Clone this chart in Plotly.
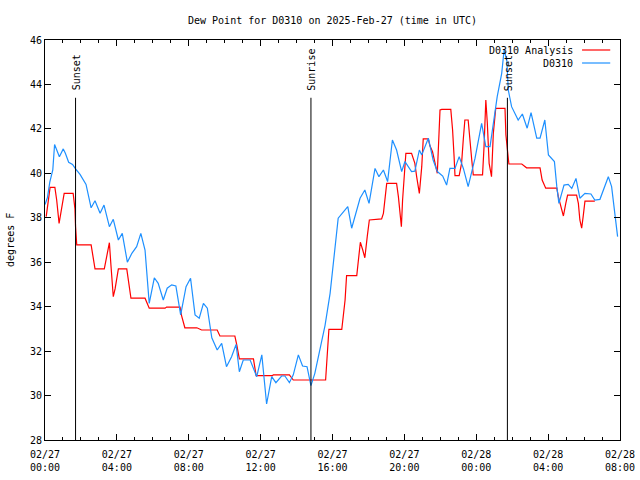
import pandas as pd
import plotly.graph_objects as go

# ---- data ----
obs_times = [
    "02-27 00:00", "02-27 00:08", "02-27 00:16", "02-27 00:26", "02-27 00:32", "02-27 00:48",
    "02-27 01:01", "02-27 01:08", "02-27 01:19", "02-27 01:32", "02-27 01:42", "02-27 01:57",
    "02-27 02:17", "02-27 02:34", "02-27 02:47", "02-27 03:04", "02-27 03:17", "02-27 03:35",
    "02-27 03:48", "02-27 04:05", "02-27 04:18", "02-27 04:35", "02-27 04:50", "02-27 05:06",
    "02-27 05:20", "02-27 05:34", "02-27 05:48", "02-27 06:05", "02-27 06:18", "02-27 06:35",
    "02-27 06:48", "02-27 07:03", "02-27 07:17", "02-27 07:33", "02-27 07:51", "02-27 08:06",
    "02-27 08:21", "02-27 08:35", "02-27 08:49", "02-27 09:02", "02-27 09:17", "02-27 09:35",
    "02-27 09:50", "02-27 10:06", "02-27 10:23", "02-27 10:38", "02-27 10:49", "02-27 11:02",
    "02-27 11:25", "02-27 11:47", "02-27 12:04", "02-27 12:11", "02-27 12:20", "02-27 12:37",
    "02-27 12:51", "02-27 13:10", "02-27 13:21", "02-27 13:36", "02-27 13:49", "02-27 14:06",
    "02-27 14:20", "02-27 14:35", "02-27 14:48", "02-27 15:01", "02-27 15:18", "02-27 15:35",
    "02-27 15:52", "02-27 16:08", "02-27 16:19", "02-27 16:51", "02-27 17:04", "02-27 17:32",
    "02-27 17:48", "02-27 18:02", "02-27 18:22", "02-27 18:35", "02-27 18:50", "02-27 19:04",
    "02-27 19:20", "02-27 19:34", "02-27 19:51", "02-27 20:02", "02-27 20:24", "02-27 20:35",
    "02-27 20:50", "02-27 20:58", "02-27 21:20", "02-27 21:36", "02-27 21:50", "02-27 22:08",
    "02-27 22:21", "02-27 22:32", "02-27 22:49", "02-27 23:03", "02-27 23:17", "02-27 23:33",
    "02-27 23:56", "02-28 00:18", "02-28 00:32", "02-28 00:46", "02-28 00:59", "02-28 01:10",
    "02-28 01:25", "02-28 01:33", "02-28 01:42", "02-28 01:47", "02-28 01:58", "02-28 02:20",
    "02-28 02:34", "02-28 02:50", "02-28 03:03", "02-28 03:22", "02-28 03:33", "02-28 03:49",
    "02-28 04:01", "02-28 04:21", "02-28 04:29", "02-28 04:36", "02-28 04:53", "02-28 05:07",
    "02-28 05:19", "02-28 05:33", "02-28 05:46", "02-28 06:03", "02-28 06:23", "02-28 06:36",
    "02-28 06:53", "02-28 07:21", "02-28 07:32", "02-28 07:52",
]
obs_dewpt = [
    38.6, 38.9, 39.6, 40.15, 41.3, 40.75,
    41.1, 40.9, 40.5, 40.4, 40.2, 39.95,
    39.5, 38.45, 38.77, 38.2, 38.57, 37.6,
    37.93, 37.0, 37.3, 36.0, 36.4, 36.7,
    37.3, 36.55, 34.15, 35.3, 35.05, 34.3,
    34.83, 34.98, 34.93, 33.63, 34.9, 35.28,
    33.63, 33.48, 34.15, 33.93, 32.6, 32.05,
    32.35, 31.3, 31.75, 32.3, 31.07, 31.6,
    31.6, 30.85, 31.83, 30.78, 29.62, 30.85,
    30.58, 30.88, 30.88, 30.58, 30.93, 31.83,
    31.33, 31.3, 30.45, 31.0, 32.1, 33.15,
    34.6, 36.55, 37.98, 38.5, 37.53, 38.88,
    39.25, 38.65, 40.22, 39.85, 40.15, 39.63,
    41.5, 41.05, 40.08, 40.53, 40.08, 40.1,
    41.05, 40.83, 41.58, 40.6, 40.08, 39.88,
    39.47, 40.22, 40.22, 40.75, 40.22, 39.4,
    40.68, 42.25, 41.2, 41.2, 42.48, 43.45,
    44.5, 45.55, 45.1, 43.75, 43.0, 42.4,
    42.67, 42.03, 42.73, 41.58, 41.58, 42.4,
    40.83, 40.53, 39.4, 38.65, 39.47, 39.5,
    39.32, 39.77, 38.88, 39.1, 39.07, 38.8,
    38.83, 39.85, 39.4, 37.15,
]

ana_times = [
    "02-27 00:04", "02-27 00:11", "02-27 00:17", "02-27 00:33", "02-27 00:39", "02-27 00:47",
    "02-27 00:53", "02-27 01:04", "02-27 01:34", "02-27 01:40", "02-27 01:42", "02-27 01:46",
    "02-27 02:34", "02-27 02:47", "02-27 03:18", "02-27 03:31", "02-27 03:35", "02-27 03:40",
    "02-27 03:48", "02-27 03:54", "02-27 04:05", "02-27 04:33", "02-27 04:47", "02-27 05:34",
    "02-27 05:48", "02-27 06:41", "02-27 06:46", "02-27 07:31", "02-27 07:36", "02-27 07:47",
    "02-27 08:27", "02-27 08:43", "02-27 09:35", "02-27 09:44", "02-27 10:34", "02-27 10:40",
    "02-27 10:49", "02-27 11:36", "02-27 11:45", "02-27 12:40", "02-27 12:42", "02-27 13:36",
    "02-27 13:49", "02-27 15:37", "02-27 15:48", "02-27 16:31", "02-27 16:42", "02-27 16:47",
    "02-27 17:21", "02-27 17:26", "02-27 17:33", "02-27 17:41", "02-27 17:48", "02-27 17:56",
    "02-27 18:03", "02-27 18:44", "02-27 18:50", "02-27 19:01", "02-27 19:34", "02-27 19:40",
    "02-27 19:45", "02-27 19:50", "02-27 19:54", "02-27 19:59", "02-27 20:05", "02-27 20:24",
    "02-27 20:35", "02-27 20:41", "02-27 20:46", "02-27 20:50", "02-27 20:58", "02-27 21:03",
    "02-27 21:20", "02-27 21:25", "02-27 21:34", "02-27 21:42", "02-27 21:50", "02-27 21:59",
    "02-27 22:05", "02-27 22:35", "02-27 22:41", "02-27 22:46", "02-27 22:49", "02-27 23:03",
    "02-27 23:11", "02-27 23:17", "02-27 23:22", "02-27 23:33", "02-27 23:39", "02-27 23:45",
    "02-27 23:50", "02-28 00:21", "02-28 00:26", "02-28 00:32", "02-28 00:37", "02-28 00:43",
    "02-28 00:51", "02-28 00:57", "02-28 01:05", "02-28 01:36", "02-28 01:39", "02-28 01:45",
    "02-28 01:49", "02-28 02:32", "02-28 02:48", "02-28 03:33", "02-28 03:40", "02-28 03:52",
    "02-28 04:29", "02-28 04:34", "02-28 04:40", "02-28 04:45", "02-28 04:51", "02-28 04:59",
    "02-28 05:05", "02-28 05:35", "02-28 05:41", "02-28 05:46", "02-28 05:52", "02-28 05:57",
    "02-28 06:03", "02-28 06:36",
]
ana_dewpt = [
    38.05, 38.8, 39.37, 39.37, 38.8, 37.75,
    38.2, 39.1, 39.1, 38.4, 37.6, 36.78,
    36.78, 35.7, 35.7, 36.7, 36.88, 35.9,
    34.45, 34.8, 35.7, 35.7, 34.38, 34.38,
    33.93, 33.93, 33.98, 33.98, 33.6, 33.05,
    33.05, 32.95, 32.95, 32.68, 32.68, 32.3,
    31.65, 31.65, 30.9, 30.9, 30.93, 30.93,
    30.7, 30.7, 32.98, 32.98, 34.3, 35.4,
    35.4, 36.03, 36.9, 36.55, 36.2, 37.15,
    37.9, 37.95, 38.2, 39.55, 39.55, 38.95,
    38.2, 37.6, 38.8, 40.0, 40.9, 40.9,
    40.45, 39.85, 39.33, 39.1, 40.3, 41.55,
    41.55, 41.25, 40.97, 40.45, 40.0, 42.85,
    42.88, 42.88, 41.95, 40.75, 39.9, 39.9,
    40.45, 41.58, 42.4, 42.4, 41.65, 40.6,
    39.93, 39.93, 41.2, 43.3, 42.25, 40.45,
    39.85, 41.8, 42.92, 42.92, 41.73, 41.05,
    40.42, 40.42, 40.25, 40.25, 39.7, 39.33,
    39.33, 38.95, 38.65, 38.43, 38.08, 38.65,
    39.02, 39.02, 38.65, 37.9, 37.53, 38.05,
    38.75, 38.75,
]

event_labels = ["Sunset", "Sunrise", "Sunset"]
event_times = ["02-27 01:42", "02-27 14:48", "02-28 01:44"]
event_top = 43.4

series_names = ["D0310 Analysis", "D0310"]
series_colors = ["#ff0000", "#1e90ff"]

x_start = "2025-02-27 00:00"
x_end = "2025-02-28 08:00"
y_min, y_max = 28, 46


def to_dt(lst):
    return pd.to_datetime(["2025-" + s for s in lst])


FONT = "DejaVu Sans Mono"
FS = 10

fig = go.Figure()
fig.add_trace(go.Scatter(x=to_dt(ana_times), y=ana_dewpt, mode="lines",
                         line=dict(color=series_colors[0], width=1.2),
                         name=series_names[0], showlegend=False))
fig.add_trace(go.Scatter(x=to_dt(obs_times), y=obs_dewpt, mode="lines",
                         line=dict(color=series_colors[1], width=1.2),
                         name=series_names[1], showlegend=False))

# sunrise/sunset markers
for lab, t in zip(event_labels, to_dt(event_times)):
    fig.add_shape(type="line", x0=t, x1=t, y0=y_min, y1=event_top,
                  xref="x", yref="y", line=dict(color="black", width=1))
    fig.add_annotation(x=t, y=event_top, xref="x", yref="y", text=lab,
                       textangle=-90, showarrow=False, xanchor="center",
                       yanchor="bottom", yshift=5, xshift=1,
                       font=dict(family=FONT, size=FS, color="black"))

# legend drawn in the gnuplot style (text right, sample line)
leg_y = [0.975, 0.9425]
for name, col, yy in zip(series_names, series_colors, leg_y):
    fig.add_annotation(x=0.922, y=yy, xref="paper", yref="paper", text=name,
                       showarrow=False, xanchor="right", yanchor="middle",
                       font=dict(family=FONT, size=FS, color="black"))
    fig.add_shape(type="line", x0=0.934, x1=0.983, y0=yy, y1=yy,
                  xref="paper", yref="paper", line=dict(color=col, width=1.2))

# y axis title
fig.add_annotation(x=-0.061, y=0.5, xref="paper", yref="paper", text="degrees F",
                   textangle=-90, showarrow=False, xanchor="center", yanchor="middle",
                   font=dict(family=FONT, size=FS, color="black"))

fig.update_layout(
    width=640, height=480,
    margin=dict(l=45, r=20, t=40, b=40, autoexpand=False),
    paper_bgcolor="white", plot_bgcolor="white",
    font=dict(family=FONT, size=FS, color="black"),
    title=dict(text="Dew Point for D0310 on 2025-Feb-27 (time in UTC)",
               x=0.5, xref="paper", xanchor="center",
               y=1 - 20 / 480, yref="container", yanchor="middle",
               font=dict(family=FONT, size=FS, color="black")),
    showlegend=False,
)
fig.update_xaxes(
    range=[pd.Timestamp(x_start), pd.Timestamp(x_end)],
    tick0=pd.Timestamp(x_start), dtick=4 * 3600 * 1000,
    tickformat="%m/%d<br>%H:%M",
    ticks="inside", ticklen=6, tickcolor="black", tickwidth=1,
    minor=dict(dtick=3600 * 1000, ticks="inside", ticklen=3, tickcolor="black"),
    showline=True, linecolor="black", linewidth=1, mirror="allticks",
    showgrid=False, zeroline=False, ticklabelstandoff=5,
    automargin=False, ticklabeloverflow="allow",
    tickfont=dict(family=FONT, size=FS, color="black"),
)
fig.update_yaxes(
    range=[y_min, y_max], dtick=2, tick0=28,
    ticks="inside", ticklen=6, tickcolor="black", tickwidth=1,
    showline=True, linecolor="black", linewidth=1, mirror="allticks",
    showgrid=False, zeroline=False, automargin=False,
    tickfont=dict(family=FONT, size=FS, color="black"),
)

fig.write_html("out.html", config={"displayModeBar": False},
               post_script="document.body.style.margin='0px';document.body.style.overflow='hidden';")
